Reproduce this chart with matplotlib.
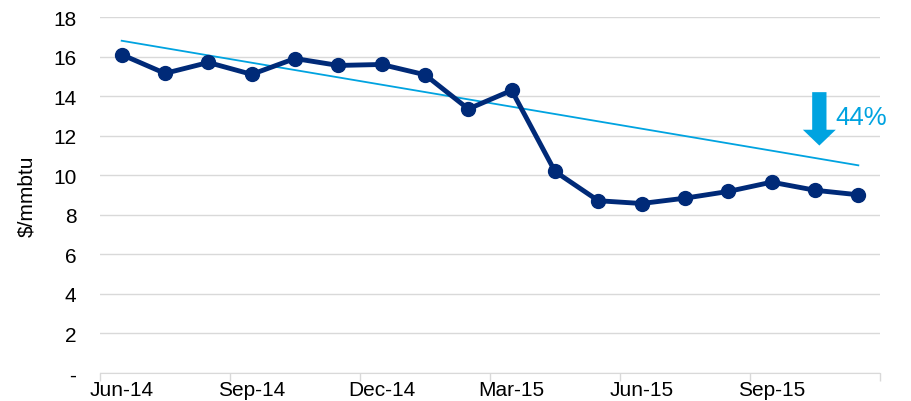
import matplotlib
matplotlib.use('Agg')
import matplotlib.pyplot as plt

# -----------------------------
# Data
# -----------------------------
months = ['Jun-14', 'Jul-14', 'Aug-14', 'Sep-14', 'Oct-14', 'Nov-14',
          'Dec-14', 'Jan-15', 'Feb-15', 'Mar-15', 'Apr-15', 'May-15',
          'Jun-15', 'Jul-15', 'Aug-15', 'Sep-15', 'Oct-15', 'Nov-15']
price = [16.1, 15.15, 15.7, 15.1, 15.9, 15.55,
         15.6, 15.08, 13.35, 14.29, 10.19, 8.71,
         8.57, 8.84, 9.18, 9.65, 9.24, 9.01]

# trend line end points (first and last month)
trend_ends = [16.8, 10.5]

arrow_top = 14.2
arrow_bottom = 11.5
drop_label = '44%'

navy = '#002a78'
light_blue = '#00a3e0'

plt.rcParams['font.family'] = ['Liberation Sans', 'DejaVu Sans']

fig = plt.figure(figsize=(9.12, 4.02), dpi=100)
ax = fig.add_axes([100 / 912, 28 / 402, 780 / 912, 356 / 402])

x = list(range(len(months)))

# trend line
ax.plot([x[0], x[-1]], trend_ends, color=light_blue, lw=1.3, zorder=2)

# price line
ax.plot(x, price, color=navy, lw=3.5, marker='o', markersize=10, zorder=3)

# arrow + label
arrow_x = 16.1
ax.arrow(arrow_x, arrow_top, 0, arrow_bottom - arrow_top, width=0.33,
         head_width=0.76, head_length=0.8, length_includes_head=True,
         color=light_blue, lw=0, zorder=4)
ax.text(16.48, 12.95, drop_label, color=light_blue, fontsize=18.5,
        va='center', ha='left')

# y axis
ax.set_ylim(0, 18)
ax.set_yticks(range(0, 19, 2))
ax.set_yticklabels(['-'] + [str(v) for v in range(2, 19, 2)], fontsize=15)
ax.tick_params(axis='y', length=0, pad=17)
ax.set_ylabel('\\$/mmbtu', fontsize=15, labelpad=12)
ax.grid(axis='y', color='#d9d9d9', lw=1)
ax.set_axisbelow(True)

# x axis: tick marks at category boundaries, labels every 3 months
ax.set_xlim(-0.5, len(months) - 0.5)
ax.set_xticks([i - 0.5 for i in range(0, len(months) + 1, 3)])
ax.set_xticklabels([])
ax.set_xticks(x[::3], minor=True)
ax.set_xticklabels(months[::3], minor=True, fontsize=15)
ax.tick_params(axis='x', which='major', length=6, color='#d9d9d9', width=1)
ax.tick_params(axis='x', which='minor', length=0, pad=5)

for side in ['left', 'right', 'top']:
    ax.spines[side].set_visible(False)
ax.spines['bottom'].set_color('#d9d9d9')

plt.savefig('out.png', dpi=100)
